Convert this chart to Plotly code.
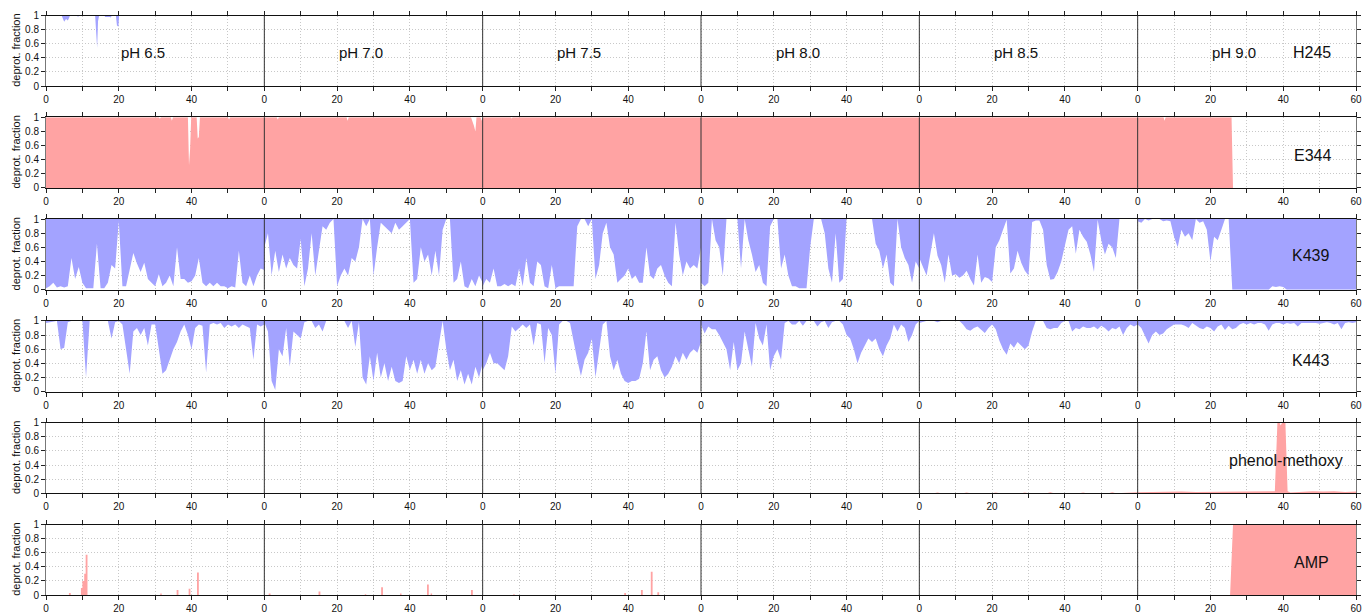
import plotly.graph_objects as go

# ---------------- data ----------------
PH_LABELS = ["pH 6.5", "pH 7.0", "pH 7.5", "pH 8.0", "pH 8.5", "pH 9.0"]
SEG_LEN = 60
T = list(range(61))  # sample times (ns) within each pH run

# K439 (deprot. fraction, 1 ns samples)
K439_ph65 = [0.02,0.05,0.1,0.03,0.05,0.03,0.05,0.45,0.15,0.32,0.1,0.02,0.02,0.02,0.65,0.02,0.02,0.1,0.35,0.3,0.97,
             0.05,0.05,0.3,0.52,0.37,0.25,0.38,0.15,0.1,0.05,0.22,0.05,0.1,0.2,0.05,0.6,0.15,0.15,0.1,0.12,
             0.2,0.45,0.1,0.05,0.1,0.05,0.1,0.05,0.05,0.02,0.05,0.03,0.55,0.1,0.05,0.2,0.05,0.2,0.3,0.28]
K439_ph70 = [0.6,0.8,0.2,0.55,0.25,0.5,0.3,0.45,0.35,0.3,0.72,0.05,0.3,0.8,0.2,0.55,0.9,0.85,0.95,1.0,0.05,
             0.2,0.3,0.2,0.45,0.4,0.6,1.0,0.9,1.0,0.2,0.6,0.95,0.9,0.85,0.8,0.95,0.85,0.9,0.95,1.0,
             0.1,0.15,0.6,0.4,0.5,0.2,0.55,0.2,0.85,1.0,1.0,0.1,0.15,0.4,0.05,0.02,0.15,0.05,0.2,0.1]
K439_ph75 = [0.05,0.15,0.1,0.3,0.05,0.05,0.08,0.05,0.08,0.05,0.3,0.05,0.45,0.1,0.05,0.4,0.35,0.05,0.02,0.35,0.02,
             0.05,0.05,0.05,0.05,0.05,0.9,1.0,1.0,0.9,1.0,0.15,0.35,0.8,0.95,0.6,0.5,0.1,0.15,0.2,0.3,
             0.15,0.2,0.1,0.1,0.6,0.2,0.15,0.3,0.35,0.2,0.1,0.05,0.95,0.5,0.2,0.4,0.3,0.35,0.3,0.6]
K439_ph80 = [0.1,0.05,0.1,1.0,0.7,0.6,0.2,1.0,1.0,1.0,1.0,0.3,1.0,0.7,0.5,0.25,0.35,0.1,0.05,0.9,1.0,
             1.0,0.3,0.5,0.2,0.05,0.05,0.02,0.02,0.02,0.6,1.0,1.0,1.0,0.8,0.3,0.1,0.8,0.1,0.15,1.0,
             1.0,1.0,1.0,1.0,1.0,1.0,1.0,0.65,0.55,0.3,0.5,0.1,0.05,1.0,0.6,0.45,0.35,0.1,0.4,0.3]
K439_ph85 = [0.45,0.32,0.2,0.5,0.8,0.48,0.35,0.1,0.5,0.2,0.22,0.17,0.2,0.27,0.15,0.06,0.5,0.1,0.18,0.16,0.11,
             0.6,0.7,0.85,0.99,0.23,0.3,0.55,0.38,0.27,0.2,0.96,0.98,0.98,0.85,0.35,0.14,0.15,0.25,0.4,0.65,
             0.85,0.9,0.51,0.85,0.75,0.68,0.5,0.25,0.99,0.7,0.5,0.65,0.6,0.45,1.0,1.0,1.0,1.0,1.0,1.0]
K439_ph90 = [0.97,0.95,1.0,0.98,1.0,1.0,1.0,0.97,0.98,0.97,0.75,0.6,0.85,0.75,0.8,0.7,1.0,0.95,0.97,0.85,0.4,
             0.75,0.7,0.85,1.0,1.0,0.0,0.0,0.0,0.0,0.0,0.0,0.0,0.0,0.0,0.0,0.0,0.05,0.04,0.05,0.04,
             0.0,0.0,0.0,0.0,0.0,0.0,0.0,0.0,0.0,0.0,0.0,0.0,0.0,0.0,0.0,0.0,0.0,0.0,0.0,0.0]

# K443 (deprot. fraction, 1 ns samples)
K443_ph65 = [0.97,0.98,1.0,1.0,0.6,0.62,0.98,1.0,1.0,1.0,1.0,0.2,1.0,1.0,1.0,1.0,1.0,1.0,0.75,0.98,1.0,
             0.95,0.6,0.25,0.85,0.9,0.8,0.9,0.65,0.95,0.95,0.6,0.25,0.3,0.45,0.6,0.7,0.85,0.95,0.8,0.6,
             0.9,0.95,0.93,0.27,0.95,0.97,0.95,0.97,0.9,0.95,0.92,0.95,0.9,0.95,0.92,0.9,0.45,0.95,0.92,0.95]
K443_ph70 = [0.98,0.85,0.15,0.02,0.6,0.5,0.9,0.35,0.85,0.8,0.75,0.98,1.0,1.0,0.9,0.95,0.85,1.0,1.0,1.0,1.0,
             1.0,1.0,0.9,1.0,0.63,0.98,0.2,0.1,0.5,0.15,0.55,0.2,0.4,0.15,0.35,0.15,0.12,0.15,0.5,0.3,
             0.45,0.25,0.45,0.25,0.4,0.3,0.35,0.7,1.0,0.6,0.3,0.45,0.15,0.3,0.1,0.25,0.1,0.35,0.2,0.4]
K443_ph75 = [0.3,0.4,0.55,0.4,0.4,0.35,0.3,0.5,0.92,0.85,0.9,0.95,0.9,0.95,0.65,0.97,0.95,0.4,0.9,0.8,0.25,
             0.95,1.0,1.0,0.97,0.7,0.45,0.22,0.45,0.55,0.75,0.2,0.6,0.95,1.0,0.5,0.3,0.45,0.25,0.15,0.12,
             0.15,0.15,0.18,0.4,0.85,0.3,0.45,0.5,0.3,0.2,0.25,0.35,0.5,0.4,0.55,0.45,0.55,0.6,0.55,0.7]
K443_ph80 = [0.95,0.82,0.92,0.88,0.88,0.8,0.7,0.6,0.3,0.7,0.3,0.4,0.85,0.6,0.35,0.97,0.75,0.65,0.95,0.3,0.5,
             0.6,0.45,0.97,1.0,0.95,0.95,1.0,0.93,1.0,1.0,1.0,0.92,0.98,1.0,0.9,0.98,1.0,1.0,0.95,0.8,
             0.75,0.6,0.4,0.55,0.65,0.75,0.7,0.75,0.6,0.5,0.65,0.75,0.95,0.85,0.95,0.9,0.7,0.8,0.95,1.0]
K443_ph85 = [0.97,0.99,1.0,1.0,1.0,0.98,1.0,1.0,1.0,1.0,1.0,1.0,0.95,0.88,0.86,0.9,0.92,0.88,0.83,0.9,0.95,
             0.88,0.72,0.6,0.52,0.68,0.62,0.7,0.65,0.6,0.65,0.85,1.0,1.0,1.0,0.9,0.88,0.9,0.9,0.97,1.0,
             1.0,0.85,0.9,0.88,0.92,0.9,0.9,0.92,0.88,0.93,0.9,0.85,0.9,0.88,0.92,0.8,0.9,0.95,0.92,0.95]
K443_ph90 = [0.95,0.9,0.8,0.68,0.8,0.85,0.8,0.82,0.88,0.92,0.95,0.95,0.95,0.93,0.9,0.97,0.93,0.9,0.88,0.92,0.9,
             0.85,0.92,0.95,0.87,0.93,0.88,0.9,0.95,0.97,0.95,0.97,0.95,0.97,0.97,0.95,0.86,0.95,0.97,0.97,0.95,
             0.97,0.96,0.97,0.92,0.97,0.97,0.97,0.98,0.97,0.96,0.97,0.98,0.97,0.95,0.97,0.88,0.97,0.98,0.97,0.98]

# sparse series: knots on the concatenated time axis (6 runs x 60 ns)
H245_x = [0, 4.3, 4.6, 5.0, 5.5, 6.0, 6.3, 6.6, 8.5, 8.8, 9.1, 13.5, 13.8, 14.05, 14.3, 14.6,
          16.0, 16.3, 17.5, 17.8, 18.1, 19.2, 19.5, 19.9, 20.1, 360]
H245_y = [1, 1, 0.96, 0.91, 0.95, 0.93, 0.96, 1, 1, 0.98, 1, 1, 0.75, 0.54, 0.92, 1,
          1, 0.98, 0.98, 0.97, 1, 1, 0.86, 0.84, 1, 1]

E344_x = [0, 31.0, 31.3, 31.6, 34.3, 34.6, 34.9, 39.0, 39.3, 39.6, 39.9, 41.4, 41.7, 42.0, 42.3,
          50.0, 50.3, 50.6, 63.4, 63.7, 64.0, 82.6, 82.9, 83.2, 116.8, 117.2, 117.6, 118.0, 118.3,
          119.4, 119.7, 120.0, 127.8, 128.0, 128.2, 307.1, 307.4, 307.7, 325.8, 326.2, 360]
E344_y = [1, 1, 0.98, 1, 1, 0.95, 1, 1, 0.32, 0.55, 1, 1, 0.7, 0.72, 1,
          1, 0.97, 1, 1, 0.97, 1, 1, 0.95, 1, 1, 0.95, 0.88, 0.8, 1,
          1, 0.95, 1, 1, 0.98, 1, 1, 0.95, 1, 1, 0, 0]

PHENOL_x = [0, 244, 245, 246, 252, 253, 254, 260, 261, 262, 268, 269, 270, 275, 276, 277, 284, 285, 286,
            292, 293, 294, 300, 304, 308, 312, 316, 320, 324, 328, 332, 336, 337.7, 338.4, 339.0, 339.3,
            339.7, 340.6, 341.2, 342, 345, 348, 351, 354, 357, 360]
PHENOL_y = [0, 0, 0.012, 0, 0, 0.01, 0, 0, 0.012, 0, 0, 0.01, 0, 0, 0.015, 0, 0, 0.012, 0,
            0, 0.015, 0, 0.015, 0.02, 0.015, 0.025, 0.02, 0.02, 0.025, 0.02, 0.03, 0.025, 0.03, 1.0, 1.0, 0.96,
            1.0, 1.0, 0.03, 0.01, 0.02, 0.03, 0.025, 0.03, 0.02, 0.025]

# AMP: short bursts (start, end, value) and the final block
AMP_burst_start = [6.3, 9.6, 10.0, 10.5, 10.9, 31.4, 35.9, 39.2, 41.5, 61.2, 74.9, 87.6, 92.1, 97.3,
                   104.7, 105.7, 116.8, 128.4, 158.9, 163.5, 166.2, 168.0]
AMP_burst_end = [6.8, 10.0, 10.5, 10.9, 11.4, 31.8, 36.4, 39.7, 42.0, 61.7, 75.4, 88.0, 92.6, 97.7,
                 105.2, 106.1, 117.3, 128.8, 159.4, 164.0, 166.7, 168.5]
AMP_burst_value = [0.03, 0.1, 0.2, 0.3, 0.57, 0.02, 0.07, 0.09, 0.32, 0.02, 0.05, 0.01, 0.11, 0.02,
                   0.15, 0.02, 0.07, 0.01, 0.03, 0.07, 0.33, 0.04]
AMP_block_x = [325.4, 326.2, 360]
AMP_block_y = [0, 1, 1]

ROW_NAMES = ["H245", "E344", "K439", "K443", "phenol-methoxy", "AMP"]

# ---------------- build ----------------
def concat_runs(runs):
    xs, ys = [], []
    for k, run in enumerate(runs):
        for t, v in zip(T, run):
            xs.append(SEG_LEN * k + t)
            ys.append(v)
    return xs, ys

K439_x, K439_y = concat_runs([K439_ph65, K439_ph70, K439_ph75, K439_ph80, K439_ph85, K439_ph90])
K443_x, K443_y = concat_runs([K443_ph65, K443_ph70, K443_ph75, K443_ph80, K443_ph85, K443_ph90])

AMP_x, AMP_y = [0], [0]
for s, e, v in zip(AMP_burst_start, AMP_burst_end, AMP_burst_value):
    AMP_x += [s, s, e, e]
    AMP_y += [0, v, v, 0]
AMP_x += AMP_block_x
AMP_y += AMP_block_y

BLUE = "#a3a3ff"
RED = "#ffa3a3"
# (x, y, colour, fill from top?)
rows = [
    (H245_x, H245_y, BLUE, True),
    (E344_x, E344_y, RED, False),
    (K439_x, K439_y, BLUE, True),
    (K443_x, K443_y, BLUE, True),
    (PHENOL_x, PHENOL_y, RED, False),
    (AMP_x, AMP_y, RED, False),
]
label_pos = [(348, 0.48), (348, 0.46), (347.6, 0.49), (347.6, 0.44), (340.8, 0.47), (347.8, 0.46)]

FONT = "Liberation Sans, Arial, Helvetica, sans-serif"
W, H = 1363, 615
MT, MB, ML, MR = 15, 20, 46, 7
PH = H - MT - MB
ROW_STEP = 101.8
ROW_H = 70.6
GRID = "#c8c8c8"
GRID_DASH = "1px,2px"

fig = go.Figure()
layout = dict(
    width=W, height=H,
    margin=dict(l=ML, r=MR, t=MT, b=MB, autoexpand=False),
    paper_bgcolor="white", plot_bgcolor="white",
    showlegend=False,
    font=dict(family=FONT, size=10, color="#111"),
)

tickvals = list(range(0, 361, 10))
ticktext = []
for v in tickvals:
    if v == 360:
        ticktext.append("60")
    elif (v % SEG_LEN) % 20 == 0:
        ticktext.append(str(v % SEG_LEN))
    else:
        ticktext.append("")

shapes, annotations = [], []
for i, (xs, ys, col, from_top) in enumerate(rows):
    n = i + 1
    xa = "x" if n == 1 else f"x{n}"
    ya = "y" if n == 1 else f"y{n}"
    if from_top:
        fig.add_trace(go.Scatter(x=xs, y=[1] * len(xs), mode="lines", line=dict(width=0),
                                 hoverinfo="skip", xaxis=xa, yaxis=ya))
        fig.add_trace(go.Scatter(x=xs, y=ys, mode="lines", line=dict(width=0, color=col),
                                 fill="tonexty", fillcolor=col, xaxis=xa, yaxis=ya))
    else:
        fig.add_trace(go.Scatter(x=xs, y=ys, mode="lines", line=dict(width=0, color=col),
                                 fill="tozeroy", fillcolor=col, xaxis=xa, yaxis=ya))

    top = 0.5 + i * ROW_STEP
    d1 = min(1.0, max(0.0, 1 - top / PH))
    d0 = min(1.0, max(0.0, 1 - (top + ROW_H) / PH))
    key = "" if n == 1 else str(n)
    layout["xaxis" + key] = dict(
        domain=[0, 1], anchor=ya, range=[0, 360], tickvals=tickvals, ticktext=ticktext,
        ticks="outside", ticklen=4, tickcolor="#222", mirror="ticks", showline=True,
        linecolor="#111", linewidth=1, showgrid=True, gridcolor=GRID, griddash=GRID_DASH,
        gridwidth=1, zeroline=False, tickfont=dict(size=10, family=FONT, color="#111"),
        fixedrange=True,
    )
    layout["yaxis" + key] = dict(
        domain=[d0, d1], anchor=xa, range=[0, 1],
        tickvals=[0, 0.2, 0.4, 0.6, 0.8, 1.0], ticktext=["0", "0.2", "0.4", "0.6", "0.8", "1"],
        ticks="outside", ticklen=4, tickcolor="#222", mirror="ticks", showline=True,
        linecolor="#777", linewidth=1, showgrid=True, gridcolor=GRID, griddash=GRID_DASH,
        zeroline=False, tickfont=dict(size=10, family=FONT, color="#111"), fixedrange=True,
    )
    for k in range(1, 6):
        shapes.append(dict(type="line", xref=xa, yref=f"{ya} domain", x0=SEG_LEN * k, x1=SEG_LEN * k,
                           y0=0, y1=1, line=dict(color="#333", width=1), layer="above"))
    annotations.append(dict(text="deprot. fraction", xref="paper", yref=f"{ya} domain", x=0, y=0.5,
                            xshift=-30, textangle=-90, showarrow=False, xanchor="center", yanchor="middle",
                            font=dict(size=11, family=FONT, color="#111")))
    lx, ly = label_pos[i]
    annotations.append(dict(text=ROW_NAMES[i], xref=xa, yref=ya, x=lx, y=ly, showarrow=False,
                            xanchor="center", yanchor="middle", font=dict(size=16, family=FONT, color="#111")))

for k, lab in enumerate(PH_LABELS):
    annotations.append(dict(text=lab, xref="x", yref="y", x=SEG_LEN * k + 20, y=0.47, showarrow=False,
                            xanchor="left", yanchor="middle", font=dict(size=15, family=FONT, color="#111")))

layout["shapes"] = shapes
layout["annotations"] = annotations
fig.update_layout(**layout)
fig.write_html("out.html")
